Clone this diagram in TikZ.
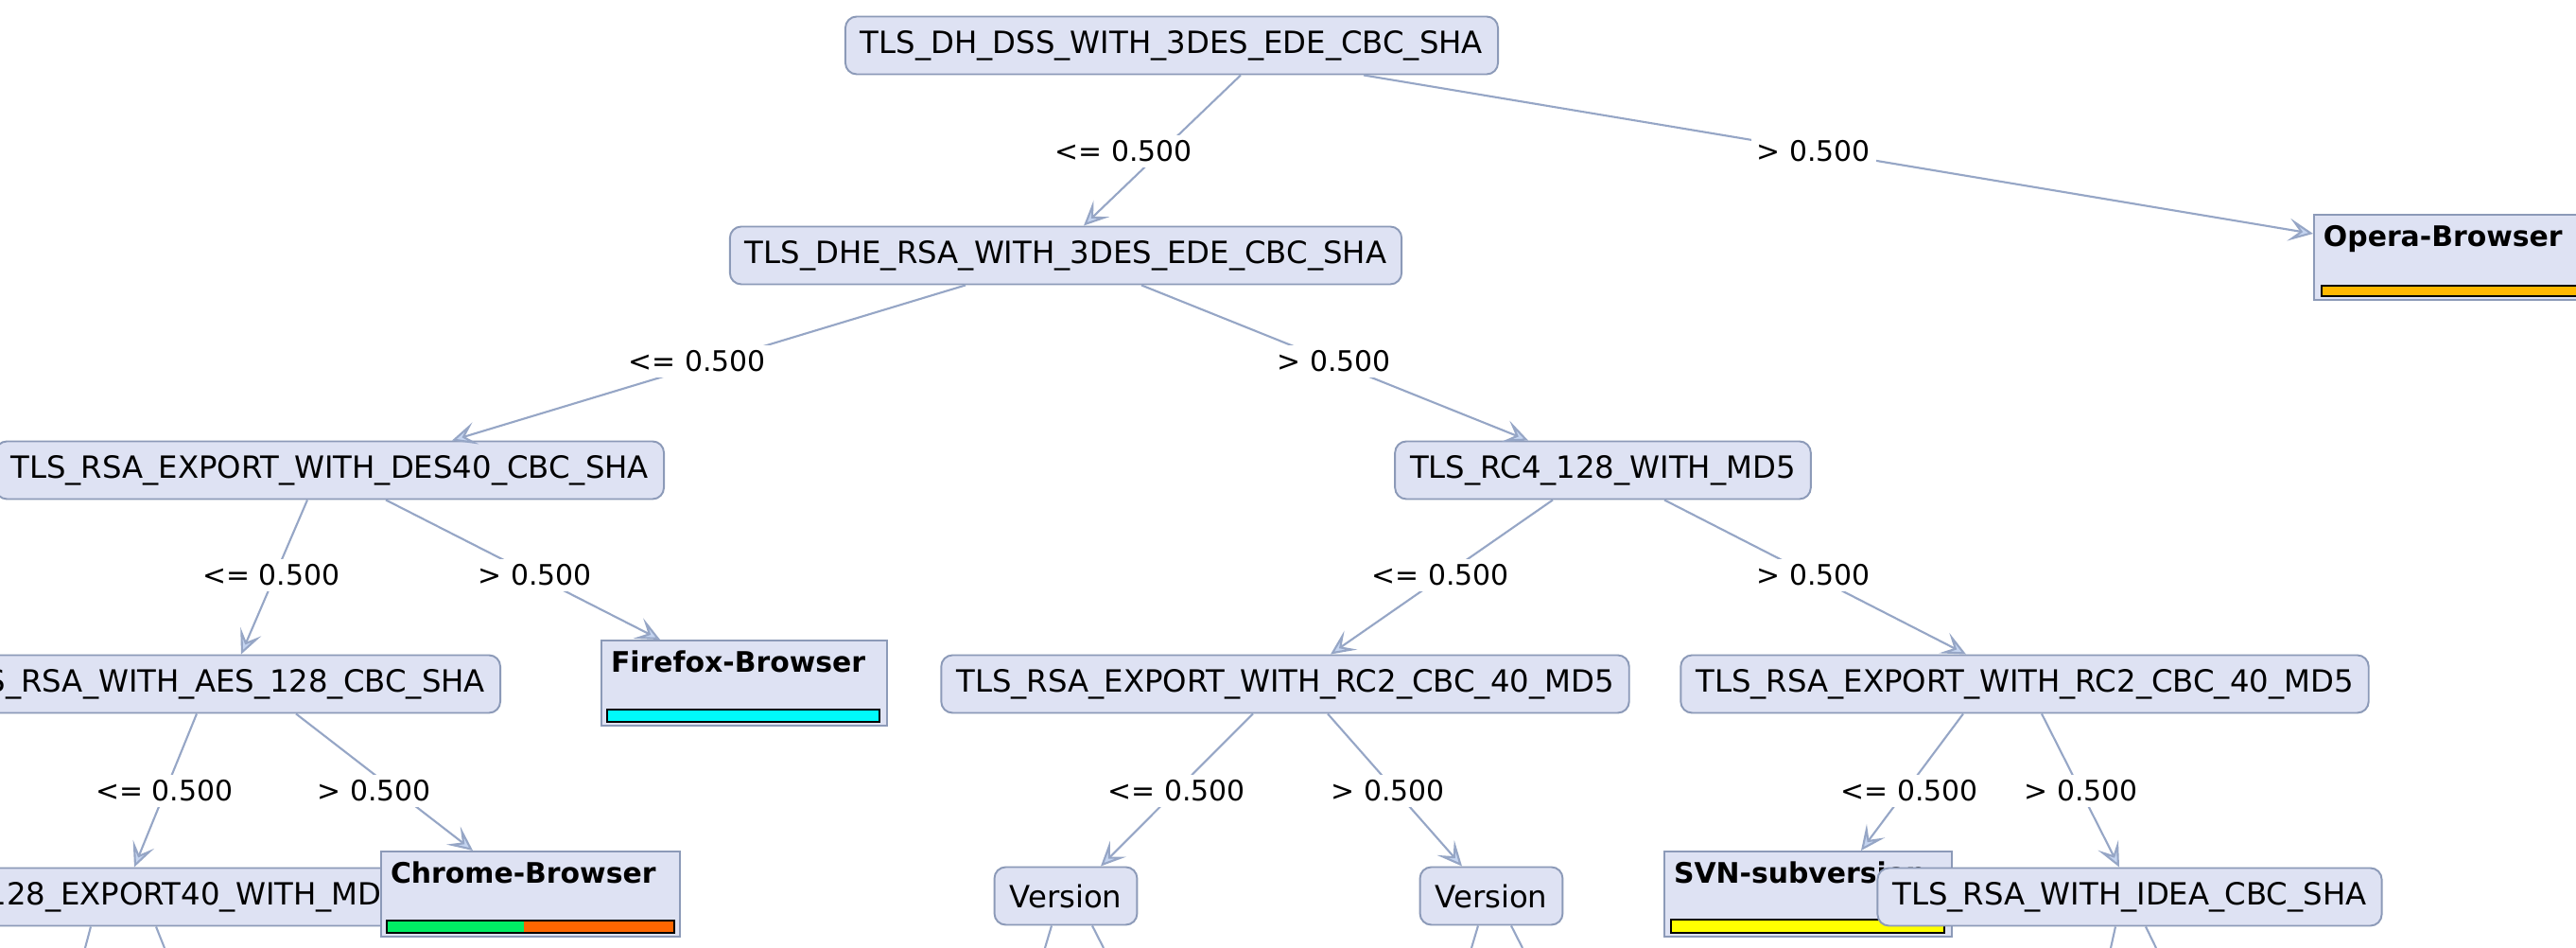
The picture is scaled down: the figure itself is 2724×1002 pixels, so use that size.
\documentclass[tikz,border=0pt]{standalone}
\usepackage{fontspec}
\setmainfont{DejaVu Sans}
\usepackage{tikz}
\usetikzlibrary{arrows.meta}
\definecolor{nodefill}{RGB}{222,226,243}
\definecolor{nodeline}{RGB}{140,154,184}
\definecolor{edgeline}{RGB}{150,166,198}
\definecolor{arrowfill}{RGB}{196,212,240}
\definecolor{operabar}{RGB}{255,184,0}
\definecolor{firefoxbar}{RGB}{0,250,250}
\definecolor{chromegreen}{RGB}{0,238,100}
\definecolor{chromeorange}{RGB}{255,102,0}
\definecolor{svnbar}{RGB}{255,255,0}
\tikzset{
attr/.style={draw=nodeline, fill=nodefill, rounded corners=1.2mm, line width=0.55pt, minimum height=6.1mm, inner xsep=1.6mm, font=\fontsize{9.2}{11}\selectfont},
leafbox/.style={draw=nodeline, fill=nodefill, line width=0.55pt, text width=#1, align=left, inner xsep=1mm, inner ysep=0.8mm, text height=2.6mm, text depth=4.8mm, font=\bfseries\fontsize{8.5}{10}\selectfont},
cond/.style={fill=white, inner sep=0.6mm, font=\fontsize{8.5}{10}\selectfont},
branch/.style={draw=edgeline, line width=0.6pt, -{Stealth[length=2.6mm,width=2.4mm,inset=1.2mm,fill=arrowfill]}},
stub/.style={draw=edgeline, line width=0.6pt},
classbar/.style={draw=black, line width=0.6pt}
}
\begin{document}
\begin{tikzpicture}[x=0.1mm,y=-0.1mm]
        \clip (0,0) rectangle (2724,1002);
        \fill[white] (0,0) rectangle (2724,1002);
        \node[attr] (dss) at (1239,48) {TLS\_DH\_DSS\_WITH\_3DES\_EDE\_CBC\_SHA};
        \node[attr] (dhe) at (1127,270) {TLS\_DHE\_RSA\_WITH\_3DES\_EDE\_CBC\_SHA};
        \node[leafbox=29mm, anchor=north west] (opera) at (2446,226) {Opera-Browser};
        \draw[classbar, fill=operabar] ([xshift=0.9mm,yshift=0.5mm]opera.south west) rectangle ([xshift=-0.7mm,yshift=1.6mm]opera.south east);
        \node[attr, anchor=east] (des40) at (703,497) {TLS\_RSA\_EXPORT\_WITH\_DES40\_CBC\_SHA};
        \node[attr] (rc4) at (1695,497) {TLS\_RC4\_128\_WITH\_MD5};
        \node[attr, anchor=east] (aes) at (530,723) {TLS\_RSA\_WITH\_AES\_128\_CBC\_SHA};
        \node[leafbox=28.2mm] (firefox) at (787,722) {Firefox-Browser};
        \draw[classbar, fill=firefoxbar] ([xshift=0.7mm,yshift=0.5mm]firefox.south west) rectangle ([xshift=-0.9mm,yshift=1.8mm]firefox.south east);
        \node[attr] (rc2a) at (1359,723) {TLS\_RSA\_EXPORT\_WITH\_RC2\_CBC\_40\_MD5};
        \node[attr] (rc2b) at (2141,723) {TLS\_RSA\_EXPORT\_WITH\_RC2\_CBC\_40\_MD5};
        \node[attr] (exp40) at (128,948) {TLS\_RC4\_128\_EXPORT40\_WITH\_MD5};
        \node[leafbox=29.6mm] (chrome) at (561,945) {Chrome-Browser};
        \fill[chromegreen] ([xshift=0.7mm,yshift=0.5mm]chrome.south west) rectangle ([xshift=15.2mm,yshift=1.8mm]chrome.south west);
        \fill[chromeorange] ([xshift=15.2mm,yshift=0.5mm]chrome.south west) rectangle ([xshift=-0.7mm,yshift=1.8mm]chrome.south east);
        \draw[classbar] ([xshift=0.7mm,yshift=0.5mm]chrome.south west) rectangle ([xshift=-0.7mm,yshift=1.8mm]chrome.south east);
        \node[attr] (vera) at (1127,947) {Version};
        \node[attr] (verb) at (1577,947) {Version};
        \node[leafbox=28.4mm] (svn) at (1912,945) {SVN-subversion};
        \draw[classbar, fill=svnbar] ([xshift=0.8mm,yshift=0.5mm]svn.south west) rectangle ([xshift=-0.9mm,yshift=1.9mm]svn.south east);
        \node[attr] (idea) at (2252,948) {TLS\_RSA\_WITH\_IDEA\_CBC\_SHA};
        \draw[branch] ([xshift=7.3mm]dss.south) -- ([xshift=1.9mm]dhe.north);
        \draw[branch] ([xshift=20.3mm]dss.south) -- ([yshift=-2.1mm]opera.north west);
        \draw[branch] ([xshift=-10.6mm]dhe.south) -- ([xshift=-22.5mm]des40.north east);
        \draw[branch] ([xshift=8mm]dhe.south) -- ([xshift=-7.9mm]rc4.north);
        \draw[branch] ([xshift=-37.8mm]des40.south east) -- ([xshift=-27.5mm]aes.north east);
        \draw[branch] ([xshift=-29.5mm]des40.south east) -- ([xshift=-8.9mm]firefox.north);
        \draw[branch] ([xshift=-5.3mm]rc4.south) -- ([xshift=4.8mm]rc2a.north);
        \draw[branch] ([xshift=6.5mm]rc4.south) -- ([xshift=-6.2mm]rc2b.north);
        \draw[branch] ([xshift=-32.2mm]aes.south east) -- ([xshift=1.4mm]exp40.north);
        \draw[branch] ([xshift=-21.7mm]aes.south east) -- ([xshift=-6.1mm]chrome.north);
        \draw[branch] ([xshift=-3.4mm]rc2a.south) -- ([xshift=3.7mm]vera.north);
        \draw[branch] ([xshift=4.5mm]rc2a.south) -- ([xshift=-3.1mm]verb.north);
        \draw[branch] ([xshift=-6.5mm]rc2b.south) -- ([xshift=5.6mm]svn.north);
        \draw[branch] ([xshift=1.8mm]rc2b.south) -- ([xshift=-1.1mm]idea.north);
        \coordinate (e1) at (90,1002);
        \coordinate (e2) at (174,1002);
        \coordinate (e3) at (1105,1002);
        \coordinate (e4) at (1167,1002);
        \coordinate (e5) at (1556,1002);
        \coordinate (e6) at (1610,1002);
        \coordinate (e7) at (2232,1002);
        \coordinate (e8) at (2280,1002);
        \draw[stub] ([xshift=-3.2mm]exp40.south) -- (e1);
        \draw[stub] ([xshift=3.7mm]exp40.south) -- (e2);
        \draw[stub] ([xshift=-1.5mm]vera.south) -- (e3);
        \draw[stub] ([xshift=2.8mm]vera.south) -- (e4);
        \draw[stub] ([xshift=-1.4mm]verb.south) -- (e5);
        \draw[stub] ([xshift=2.1mm]verb.south) -- (e6);
        \draw[stub] ([xshift=-1.5mm]idea.south) -- (e7);
        \draw[stub] ([xshift=1.7mm]idea.south) -- (e8);
        \node[cond] (c1) at (1188,160) {<= 0.500};
        \node[cond] (c2) at (1918,160) {> 0.500};
        \node[cond] (c3) at (737,382) {<= 0.500};
        \node[cond] (c4) at (1411,382) {> 0.500};
        \node[cond] (c5) at (287,608) {<= 0.500};
        \node[cond] (c6) at (566,608) {> 0.500};
        \node[cond] (c7) at (1523,608) {<= 0.500};
        \node[cond] (c8) at (1918,608) {> 0.500};
        \node[cond] (c9) at (174,836) {<= 0.500};
        \node[cond] (c10) at (396,836) {> 0.500};
        \node[cond] (c11) at (1244,836) {<= 0.500};
        \node[cond] (c12) at (1468,836) {> 0.500};
        \node[cond] (c13) at (2019,836) {<= 0.500};
        \node[cond] (c14) at (2201,836) {> 0.500};
\end{tikzpicture}
\end{document}
